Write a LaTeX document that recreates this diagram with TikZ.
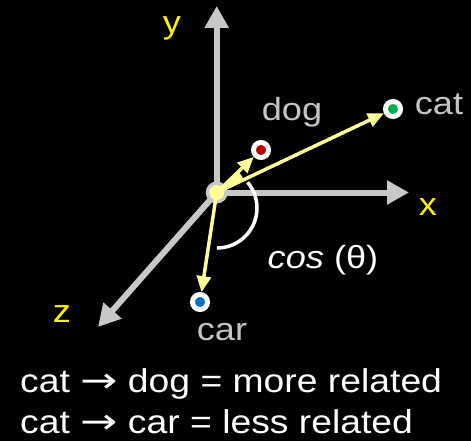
\documentclass[tikz,border=0pt]{standalone}
\usepackage{fontspec}
\setmainfont[FakeStretch=1.13]{Liberation Sans}
\newfontfamily\arrowfont{DejaVu Sans}
\usetikzlibrary{arrows.meta}
\definecolor{axisgray}{HTML}{C8C8C8}
\definecolor{wordgray}{HTML}{C4C4C4}
\definecolor{vecyellow}{HTML}{FFFF99}
\definecolor{catgreen}{HTML}{00B050}
\definecolor{dogred}{HTML}{C00000}
\definecolor{carblue}{HTML}{0070C0}
\newcommand{\relarrow}{\scalebox{1.35}[1.05]{\arrowfont →}}
\begin{document}
\begin{tikzpicture}[x=1pt,y=-1pt,
  axis/.style={draw=axisgray,line width=6pt,-{Triangle[width=23pt,length=22pt]}},
  vec/.style={draw=vecyellow,line width=3.5pt,-{Triangle[width=14pt,length=16pt]}},
  dot/.style={circle,draw=white,line width=5pt,minimum size=15pt,inner sep=0pt},
  word/.style={anchor=base,inner sep=0pt,font=\fontsize{32}{38}\selectfont},
  axlabel/.style={word,text=yellow},
  ptlabel/.style={word,text=wordgray},
  summary/.style={word,text=white,anchor=base west,font=\fontsize{33}{40}\selectfont}]
\fill[black] (0,0) rectangle (471,441);
\useasboundingbox (0,0) rectangle (471,441);
\node[circle,fill=axisgray,minimum size=22pt,inner sep=0pt] (o) at (216.7,192.5) {};
\coordinate (xend) at (409,192.5);
\coordinate (yend) at (216.7,6);
\coordinate (zend) at (98,327);
\draw[axis] (o.center) -- (xend);
\draw[axis] (o.center) -- (yend);
\draw[axis] (o.center) -- (zend);
\node[axlabel] (xlbl) at (428,215) {x};
\node[axlabel] (ylbl) at (172,34) {y};
\node[axlabel] (zlbl) at (62,322) {z};
\node[dot,fill=catgreen] (cat) at (393,109) {};
\node[dot,fill=dogred] (dog) at (261,150) {};
\node[dot,fill=carblue] (car) at (200,302) {};
\node[ptlabel] (catlbl) at (439,115) {cat};
\node[ptlabel] (doglbl) at (292,121) {dog};
\node[ptlabel] (carlbl) at (222,340) {car};
\coordinate (arcstart) at (247.6,182.3);
\draw[white,line width=3.5pt] (arcstart) arc[start angle=40,end angle=-90,radius=40pt];
\fill[vecyellow] (o.center) -- ([shift={(25.4:30pt)}]o.center)
  arc[start angle=25.4,end angle=43.7,radius=30pt] -- cycle;
\draw[vec] (o.center) -- (cat);
\draw[vec] (o.center) -- (dog);
\draw[vec] (o.center) -- (car);
\node[circle,fill=vecyellow,minimum size=15pt,inner sep=0pt] (oin) at (o) {};
\node[word,text=white] (costheta) at (323,268) {\textit{cos} (θ)};
\node[summary] (line1) at (20,392) {cat \relarrow{} dog = more related};
\node[summary] (line2) at (20,433) {cat \relarrow{} car = less related};
\end{tikzpicture}
\end{document}
